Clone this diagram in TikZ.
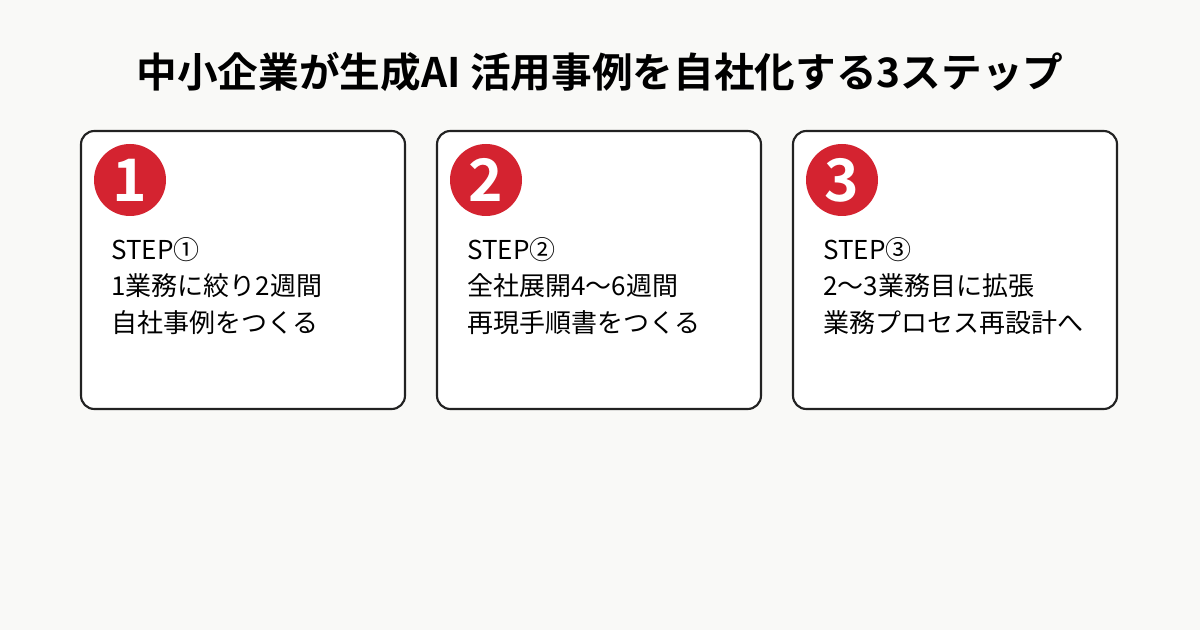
\documentclass[tikz,border=0pt]{standalone}
\usepackage{fontspec}
\setmainfont{Noto Sans CJK JP}
\newfontfamily\jpbold{Noto Sans CJK JP Bold}
\definecolor{bg}{HTML}{F9F9F7}
\definecolor{stepred}{HTML}{D42330}
\definecolor{edge}{HTML}{222222}
\begin{document}
\begin{tikzpicture}[x=0.75pt,y=-0.75pt,
  card/.style={draw=edge,line width=1.6pt,fill=white,rounded corners=10pt},
  badge/.style={circle,fill=stepred,minimum size=54pt,inner sep=0pt,text=white,font=\jpbold\fontsize{44}{44}\selectfont},
  body/.style={anchor=north west,align=left,font=\fontsize{19.5}{27.5}\selectfont,text=black,inner sep=0pt}]
\fill[bg] (0,0) rectangle (1200,630);
\useasboundingbox (0,0) rectangle (1200,630);
\node[font=\jpbold\fontsize{30.5}{30.5}\selectfont] (title) at (600,72) {中小企業が生成AI 活用事例を自社化する3ステップ};
\foreach \i/\x/\a/\b/\c in {1/81/STEP①/1業務に絞り2週間/自社事例をつくる,
  2/437/STEP②/全社展開4〜6週間/再現手順書をつくる,
  3/793/STEP③/2〜3業務目に拡張/業務プロセス再設計へ}{
  \draw[card] (\x,131) rectangle ++(324,278);
  \node[badge] (b\i) at (\x+49,180) {\i};
  \node[body] (t\i) at (\x+30,237) {\a\\\b\\\c};
}
\end{tikzpicture}
\end{document}
